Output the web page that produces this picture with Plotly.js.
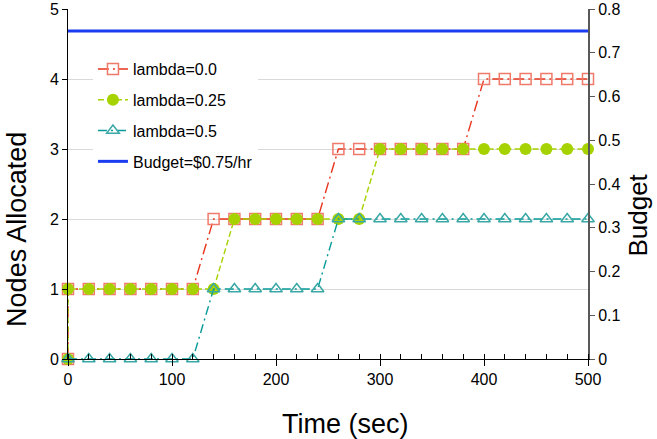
<!DOCTYPE html>
<html><head><meta charset="utf-8">
<script src="https://cdn.plot.ly/plotly-3.0.1.min.js"></script>
<style>html,body{margin:0;padding:0;background:#fff}#c{width:657px;height:439px}</style>
</head><body><div id="c"></div>
<script>
const timeSec = [0,0,20,40,60,80,100,120,140,160,180,200,220,240,260,280,300,320,340,360,380,400,420,440,460,480,500];
const lambda00 = [0,1,1,1,1,1,1,1,2,2,2,2,2,2,3,3,3,3,3,3,3,4,4,4,4,4,4];
const lambda025 = [0,1,1,1,1,1,1,1,1,2,2,2,2,2,2,2,3,3,3,3,3,3,3,3,3,3,3];
const lambda05Time = [0,20,40,60,80,100,120,140,160,180,200,220,240,260,280,300,320,340,360,380,400,420,440,460,480,500];
const lambda05 = [0,0,0,0,0,0,0,1,1,1,1,1,1,2,2,2,2,2,2,2,2,2,2,2,2,2];
const budgetTime = [0,500];
const budget = [0.75,0.75];
const names = ["lambda=0.0","lambda=0.25","lambda=0.5","Budget=$0.75/hr"];
const xTicks = [0,100,200,300,400,500];
const titles = {x:'Time (sec)', y:'Nodes Allocated', y2:'Budget'};

const traces = [
 {x:timeSec,y:lambda00,name:names[0],mode:'lines+markers',legendgroup:'a',cliponaxis:false,
  line:{color:'#e8341c',width:1.4,dash:'11px,4px,2px,4px'},
  marker:{symbol:'square-open',size:11,color:'#f07a6a',line:{width:1.5}}},
 {x:timeSec,y:lambda025,name:names[1],mode:'lines+markers',legendgroup:'b',cliponaxis:false,
  line:{color:'#a6d200',width:1.4,dash:'6px,3px'},
  marker:{symbol:'circle',size:12,color:'#a6d200'}},
 {x:lambda05Time,y:lambda05,name:names[2],mode:'lines+markers',legendgroup:'c',cliponaxis:false,
  line:{color:'#079a98',width:1.4,dash:'9px,4px,2px,4px'},
  marker:{symbol:'triangle-up-open',size:11,color:'#3aa8a6',line:{width:1.5}}},
 {x:budgetTime,y:budget,name:names[3],mode:'lines',yaxis:'y2',legendgroup:'d',
  line:{color:'#1a3cf0',width:3}}
];

const layout = {
 width:657,height:439,
 margin:{l:68,r:69,t:9,b:80},
 paper_bgcolor:'#fff',plot_bgcolor:'#fff',
 font:{family:'Liberation Sans, Arial, sans-serif',color:'#000',size:16},
 showlegend:true,
 legend:{x:0.048,y:0.877,xanchor:'left',yanchor:'top',bgcolor:'#fff',
   font:{size:16},tracegroupgap:7,itemwidth:30},
 xaxis:{range:[0,500],tickvals:xTicks,ticks:'outside',ticklen:6,
   tickcolor:'#000',showline:true,linecolor:'#000',linewidth:1,showgrid:false,zeroline:false,
   minor:{dtick:20,ticks:'inside',ticklen:5,tickcolor:'#000'},tickfont:{size:16}},
 yaxis:{range:[0,5],dtick:1,ticks:'outside',ticklen:5,tickcolor:'#000',showline:true,
   linecolor:'#000',linewidth:1,showgrid:true,gridcolor:'#d9d9d9',gridwidth:1,zeroline:false,
   tickfont:{size:16}},
 yaxis2:{range:[0,0.8],dtick:0.1,overlaying:'y',side:'right',ticks:'outside',ticklen:5,
   tickcolor:'#595959',showline:true,linecolor:'#595959',linewidth:2,showgrid:false,zeroline:false,
   tickfont:{size:16}},
 annotations:[
  {text:titles.x,xref:'paper',yref:'paper',x:0.5327,y:-0.185,xanchor:'center',yanchor:'middle',
   showarrow:false,font:{size:27}},
  {text:titles.y,xref:'paper',yref:'paper',x:-0.098,y:0.369,xanchor:'center',yanchor:'middle',
   textangle:-90,showarrow:false,font:{size:27}},
  {text:titles.y2,xref:'paper',yref:'paper',x:1.097,y:0.411,xanchor:'center',yanchor:'middle',
   textangle:-90,showarrow:false,font:{size:26}}
 ]
};
Plotly.newPlot('c',traces,layout,{displayModeBar:false});
</script></body></html>
